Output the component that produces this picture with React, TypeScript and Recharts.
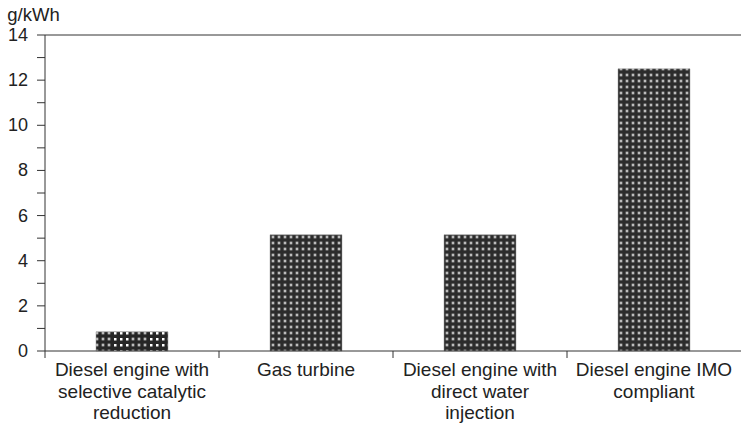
import { Bar, BarChart, Cell, ReferenceLine, XAxis, YAxis } from "recharts";

const categories = [
  "Diesel engine with selective catalytic reduction",
  "Gas turbine",
  "Diesel engine with direct water injection",
  "Diesel engine IMO compliant",
];
const labelLines = [
  ["Diesel engine with", "selective catalytic", "reduction"],
  ["Gas turbine"],
  ["Diesel engine with", "direct water", "injection"],
  ["Diesel engine IMO", "compliant"],
];
const emissions = [0.85, 5.15, 5.15, 12.5];
const yTicks = [0, 1, 2, 3, 4, 5, 6, 7, 8, 9, 10, 11, 12, 13, 14];

const data = categories.map((name, i) => ({ name, value: emissions[i] }));

const FONT = "'Liberation Sans', Arial, sans-serif";
const INK = "#222";

const YTick = ({ x, y, payload }: any) => {
  if (payload.value % 2 !== 0) return null;
  return (
    <text x={x} y={y} dy={6} textAnchor="end" fontSize={18} fontFamily={FONT} fill={INK}>
      {payload.value}
    </text>
  );
};

const XTick = ({ x, y, payload, index }: any) => {
  const half = payload.offset || 87;
  const lines = labelLines[index] || [payload.value];
  return (
    <g>
      <line x1={x - half} x2={x - half} y1={y} y2={y + 7} stroke="#333" strokeWidth={1} />
      <text x={x} y={y + 25} textAnchor="middle" fontSize={19} fontFamily={FONT} fill={INK}>
        {lines.map((l: string, i: number) => (
          <tspan key={i} x={x} dy={i === 0 ? 0 : 21.5}>
            {l}
          </tspan>
        ))}
      </text>
    </g>
  );
};

export default function App() {
  return (
    <div style={{ position: "absolute", left: 0, top: 0, width: 741, height: 430, background: "#fff" }}>
      <BarChart width={741} height={430} data={data} margin={{ top: 35, right: 0, bottom: 0, left: 0 }}>
        <defs>
          <pattern id="dots" width="6" height="6" patternUnits="userSpaceOnUse">
            <rect width="6" height="6" fill="#2c2c2c" />
            <circle cx="3" cy="3" r="1.9" fill="#6a6a6a" />
            <circle cx="3" cy="3" r="1.0" fill="#d8d8d8" />
          </pattern>
          <pattern id="mixed" x="94" width="36" height="6" patternUnits="userSpaceOnUse">
            <rect width="36" height="6" fill="#262626" />
            <circle cx="3" cy="3" r="1.9" fill="#6a6a6a" />
            <circle cx="3" cy="3" r="1.0" fill="#d8d8d8" />
            <circle cx="9" cy="3" r="1.9" fill="#6a6a6a" />
            <circle cx="9" cy="3" r="1.0" fill="#d8d8d8" />
            <circle cx="15" cy="3" r="1.9" fill="#6a6a6a" />
            <circle cx="15" cy="3" r="1.0" fill="#d8d8d8" />
            <rect x="20" y="2" width="2.5" height="2.5" fill="#fff" />
            <rect x="26" y="2" width="2.5" height="2.5" fill="#fff" />
            <rect x="32" y="2" width="2.5" height="2.5" fill="#fff" />
          </pattern>
        </defs>
        <XAxis
          dataKey="name"
          height={79}
          tickSize={0}
          tickMargin={0}
          tickLine={false}
          interval={0}
          axisLine={{ stroke: "#333" }}
          tick={<XTick />}
        />
        <YAxis
          width={45}
          domain={[0, 14]}
          ticks={yTicks}
          interval={0}
          tickSize={8}
          tickMargin={9}
          axisLine={{ stroke: "#333" }}
          tickLine={{ stroke: "#333" }}
          tick={<YTick />}
          label={{ value: "g/kWh", position: "top", offset: 14, dx: 11, fontSize: 18.5, fontFamily: FONT, fill: INK }}
        />
        <ReferenceLine y={14} stroke="#333" />
        <Bar dataKey="value" barSize={72} stroke="#999" strokeWidth={0.5} isAnimationActive={false}>
          {data.map((d, i) => (
            <Cell key={d.name} fill={i === 0 ? "url(#mixed)" : "url(#dots)"} />
          ))}
        </Bar>
      </BarChart>
    </div>
  );
}
